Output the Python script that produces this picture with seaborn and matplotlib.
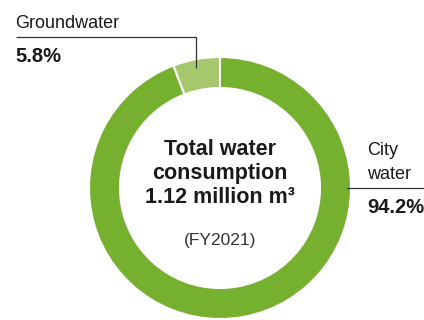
import matplotlib
matplotlib.use("Agg")
import matplotlib.pyplot as plt
import seaborn as sns

# Data
sources = ["Groundwater", "City water"]
shares = [5.8, 94.2]
total_label = "1.12 million m³"
period = "(FY2021)"

# Style
sns.set_theme(style="white")
plt.rcParams["font.family"] = ["Liberation Sans", "DejaVu Sans"]
colors = ["#a6c76b", "#76b02f"]
ink = "#1a1a1a"

W, H = 424, 320
fig = plt.figure(figsize=(W / 100, H / 100), dpi=100)
ax = fig.add_axes([0, 0, 1, 1])


def py(y):
    # pixel row (from top) -> data y
    return H - y


cx, cy, r = 220, 188, 131
ax.pie(shares, startangle=90, counterclock=True, colors=colors,
       radius=r, center=(cx, py(cy)),
       wedgeprops=dict(width=31, edgecolor="white", linewidth=1.5))
ax.set_xlim(0, W)
ax.set_ylim(0, H)
ax.set_aspect("equal")
ax.axis("off")

# Groundwater callout
ax.plot([16, 196, 196], [py(37), py(37), py(68)], color="#333333", lw=0.9,
        solid_capstyle="butt")
ax.text(15, py(28), sources[0], fontsize=13, color=ink, va="baseline")
ax.text(15, py(62), f"{shares[0]}%", fontsize=14.5, fontweight="bold",
        color=ink, va="baseline")

# City water callout
ax.plot([347, W], [py(188), py(188)], color="#333333", lw=0.9)
ax.text(367, py(155), "City", fontsize=13, color=ink, va="baseline")
ax.text(367, py(179), "water", fontsize=13, color=ink, va="baseline")
ax.text(367, py(213), f"{shares[1]}%", fontsize=14.5, fontweight="bold",
        color=ink, va="baseline")

# Centre label
for txt, base in [("Total water", 155), ("consumption", 179), (total_label, 203)]:
    ax.text(cx, py(base), txt, fontsize=15.5, fontweight="bold", color=ink,
            ha="center", va="baseline")
ax.text(cx, py(245), period, fontsize=12.5, color="#333333",
        ha="center", va="baseline")

fig.savefig("out.png", dpi=100)
